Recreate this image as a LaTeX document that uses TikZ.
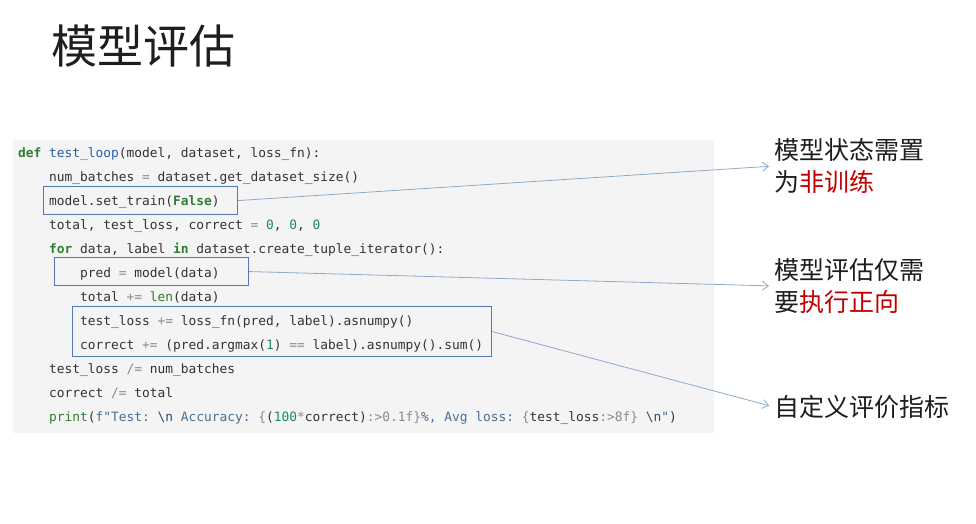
\documentclass[tikz,border=0pt]{standalone}
\usepackage{fontspec}
\usetikzlibrary{arrows.meta}
\newfontfamily\cjk{Noto Sans CJK SC}
\newfontfamily\codefont{DejaVu Sans Mono}
\definecolor{bgc}{HTML}{F4F4F4}
\definecolor{codec}{HTML}{333333}
\definecolor{kwc}{HTML}{2E7D32}
\definecolor{fncc}{HTML}{2A5DA8}
\definecolor{numc}{HTML}{1F8A5A}
\definecolor{opc}{HTML}{8A8A8A}
\definecolor{strcol}{HTML}{4A6E94}
\definecolor{escc}{HTML}{2F4A6A}
\definecolor{boxc}{HTML}{4F7BB0}
\definecolor{arrc}{HTML}{8EAACB}
\definecolor{redc}{HTML}{C00000}
\definecolor{txtc}{HTML}{1E1E1E}
\newcommand\kw[1]{\textcolor{kwc}{\bfseries #1}}
\newcommand\fnc[1]{\textcolor{fncc}{#1}}
\newcommand\numc[1]{\textcolor{numc}{#1}}
\newcommand\opc[1]{\textcolor{opc}{#1}}
\newcommand\bic[1]{\textcolor{kwc}{#1}}
\newcommand\strc[1]{\textcolor{strcol}{#1}}
\newcommand\escn{\textcolor{escc}{\textbackslash n}}
\newcommand\redt[1]{\textcolor{redc}{#1}}
\tikzset{
  codeline/.style={anchor=base west, inner sep=0pt, font=\codefont\fontsize{12.87}{24}\selectfont\frenchspacing, text=codec},
  hlbox/.style={draw=boxc, line width=1.1pt, inner sep=0pt, anchor=north west},
  note/.style={anchor=west, inner sep=0pt, align=left, text=txtc, font=\cjk\fontsize{25}{32}\selectfont},
  conn/.style={draw=arrc, line width=0.8pt, -{Straight Barb[length=6pt,width=9pt]}, shorten >=5pt}
}
\begin{document}
\begin{tikzpicture}[x=1pt,y=-1pt]
\useasboundingbox (0,0) rectangle (976,523);
\fill[white] (0,0) rectangle (976,523);
\node[anchor=west, inner sep=0pt, text=txtc, font=\cjk\fontsize{46}{50}\selectfont] (title) at (51,46) {模型评估};
\fill[bgc] (13,140) rectangle (714,433);
% code lines
\node[codeline] (l1) at (18,157) {\kw{def} \fnc{test\_loop}(model, dataset, loss\_fn):};
\node[codeline] (l2) at (49,181) {num\_batches \opc{=} dataset.get\_dataset\_size()};
\node[codeline] (l3) at (49,205) {model.set\_train(\kw{False})};
\node[codeline] (l4) at (49,229) {total, test\_loss, correct \opc{=} \numc{0}, \numc{0}, \numc{0}};
\node[codeline] (l5) at (49,253) {\kw{for} data, label \kw{in} dataset.create\_tuple\_iterator():};
\node[codeline] (l6) at (80,277) {pred \opc{=} model(data)};
\node[codeline] (l7) at (80,301) {total \opc{+=} \bic{len}(data)};
\node[codeline] (l8) at (80,325) {test\_loss \opc{+=} loss\_fn(pred, label).asnumpy()};
\node[codeline] (l9) at (80,349) {correct \opc{+=} (pred.argmax(\numc{1}) \opc{==} label).asnumpy().sum()};
\node[codeline] (l10) at (49,373) {test\_loss \opc{/=} num\_batches};
\node[codeline] (l11) at (49,397) {correct \opc{/=} total};
\node[codeline] (l12) at (49,421) {\bic{print}(\strc{f"Test:} \escn\ \strc{Accuracy:} \opc{\{}(\numc{100}\opc{*}correct)\opc{:>0.1f\}}\strc{\%, Avg loss:} \opc{\{}test\_loss\opc{:>8f\}} \escn\strc{"})};
% highlight boxes
\node[hlbox, minimum width=194pt, minimum height=28pt] (b1) at (43,186) {};
\node[hlbox, minimum width=194pt, minimum height=28pt] (b2) at (54,257) {};
\node[hlbox, minimum width=419pt, minimum height=50pt] (b3) at (72,306) {};
% notes
\node[note] (t1) at (774,166) {模型状态需置\\为\redt{非训练}};
\node[note] (t2) at (774,286) {模型评估仅需\\要\redt{执行正向}};
\node[note] (t3) at (774,407) {自定义评价指标};
% connectors
\draw[conn] (b1.east) -- (t1.west);
\draw[conn] (b2.east) -- (t2.west);
\draw[conn] (b3.east) -- (t3.west);
\end{tikzpicture}
\end{document}
